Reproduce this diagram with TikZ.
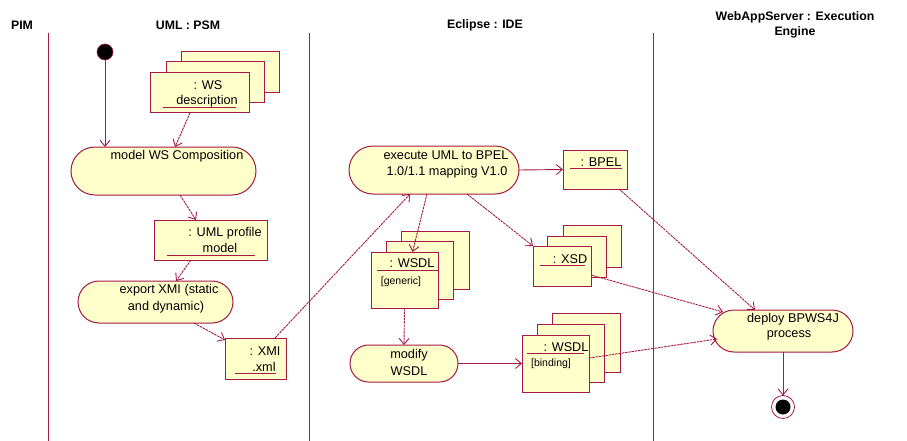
\documentclass[tikz,border=0pt]{standalone}
\usepackage{fontspec}
\setmainfont{Liberation Sans}
\usetikzlibrary{arrows.meta,shapes.misc}
\definecolor{umlline}{RGB}{165,25,70}
\definecolor{umlfill}{RGB}{255,255,204}
\begin{document}
\begin{tikzpicture}[x=1pt,y=-1pt,
 every node/.style={inner sep=0pt, outer sep=0pt},
 obj/.style={draw=umlline, fill=umlfill, line width=1pt, rectangle},
 act/.style={draw=umlline, fill=umlfill, line width=1pt, rounded rectangle},
 lbl/.style={font=\fontsize{12.7}{14}\selectfont, text=black},
 small/.style={font=\fontsize{10.5}{12}\selectfont, text=black},
 head/.style={font=\bfseries\fontsize{12.3}{14}\selectfont, align=center, text=black},
 flow/.style={draw=umlline, line width=0.9pt, -{Straight Barb[length=6pt,width=10pt]}},
 oflow/.style={flow, dash pattern=on 2.5pt off 0.8pt},
 lane/.style={draw=umlline, line width=1pt},
 uline/.style={draw=umlline, line width=1pt}]

\useasboundingbox[fill=white] (0,0) rectangle (907,441);

% headers
\node[head] (hpim) at (22,25) {PIM};
\node[head] (hpsm) at (188,25) {UML : PSM};
\node[head] (hide) at (485,25) {Eclipse : IDE};
\node[head, font=\bfseries\fontsize{12.3}{15}\selectfont] (hweb) at (795,25) {WebAppServer : Execution\\Engine};

% swimlane lines
\draw[lane] (48,33) -- (48,441);
\draw[lane] (309,33) -- (309,441);
\draw[lane] (653,33) -- (653,441);

% start
\node[circle, fill=black, draw=umlline, line width=0.6pt, minimum size=16pt] (start) at (105,52) {};

% WS description stack
\draw[obj] (181,52) rectangle (279,93);
\draw[obj] (166,62) rectangle (264,103);
\node[obj, minimum width=99pt, minimum height=40pt] (wsd) at (199.5,93) {};
\node[lbl] (wsdt1) at (208,85) {: WS};
\node[lbl] (wsdt2) at (207,101) {description};
\draw[uline] (163,108) -- (236,108);

% model WS Composition
\node[act, minimum width=185pt, minimum height=48pt] (model) at (163.5,171) {};
\node[lbl] (modelt) at (177,156) {model WS Composition};

% UML profile model
\node[obj, minimum width=113pt, minimum height=40pt] (uml) at (210.5,240) {};
\node[lbl] (umlt1) at (225,233) {: UML profile};
\node[lbl] (umlt2) at (220,248) {model};
\draw[uline] (167,255) -- (255,255);

% export XMI
\node[act, minimum width=155pt, minimum height=42pt] (export) at (155.5,302) {};
\node[lbl] (exportt1) at (169,290) {export XMI (static};
\node[lbl] (exportt2) at (166,307) {and dynamic)};

% XMI .xml
\node[obj, minimum width=61pt, minimum height=41pt] (xmi) at (255.5,358.5) {};
\node[lbl] (xmit1) at (265,351) {: XMI};
\node[lbl] (xmit2) at (264,367) {.xml};
\draw[uline] (235,373) -- (276,373);

% execute
\node[act, minimum width=170pt, minimum height=48pt] (exec) at (434,170) {};
\node[lbl] (exect1) at (446,155) {execute UML to BPEL};
\node[lbl] (exect2) at (447,172) {1.0/1.1 mapping V1.0};

% BPEL
\node[obj, minimum width=64pt, minimum height=39pt] (bpel) at (595,169.5) {};
\node[lbl] (bpelt) at (601,162) {: BPEL};
\draw[uline] (570,168) -- (622,168);

% WSDL generic stack
\draw[obj] (401,231) rectangle (469,289);
\draw[obj] (386,241) rectangle (453,299);
\node[obj, minimum width=67pt, minimum height=56pt] (wsdlg) at (404.5,280) {};
\node[lbl] (wsdlgt1) at (412,263) {: WSDL};
\draw[uline] (377,270) -- (438,270);
\node[small] (wsdlgt2) at (401,282) {[generic]};

% XSD stack
\draw[obj] (563,225) rectangle (621,267);
\draw[obj] (547,236) rectangle (606,277);
\node[obj, minimum width=58pt, minimum height=40pt] (xsd) at (562,266) {};
\node[lbl] (xsdt) at (570,259) {: XSD};
\draw[uline] (540,265) -- (585,265);

% modify WSDL
\node[act, minimum width=108pt, minimum height=37pt] (modify) at (404,363.5) {};
\node[lbl] (modifyt1) at (409,355) {modify};
\node[lbl] (modifyt2) at (409,371) {WSDL};

% WSDL binding stack
\draw[obj] (552,313) rectangle (620,372);
\draw[obj] (537,324) rectangle (604,382);
\node[obj, minimum width=67pt, minimum height=57pt] (wsdlb) at (555.5,363.5) {};
\node[lbl] (wsdlbt1) at (566,347) {: WSDL};
\draw[uline] (527,353) -- (584,353);
\node[small] (wsdlbt2) at (551,364) {[binding]};

% deploy
\node[act, minimum width=140pt, minimum height=42pt] (deploy) at (783,331) {};
\node[lbl] (deployt1) at (793,319) {deploy BPWS4J};
\node[lbl] (deployt2) at (789,335) {process};

% end
\node[circle, draw=umlline, fill=white, line width=0.8pt, minimum size=23pt] (end) at (783,407) {};
\node[circle, fill=black, minimum size=15pt] (endin) at (end.center) {};

% connectors
\draw[flow] (start.south) -- (start.south |- model.north);
\draw[oflow] ([xshift=-9.5pt]wsd.south) -- ([xshift=11.5pt]model.north);
\draw[oflow] ([xshift=16.5pt]model.south) -- ([xshift=-14.5pt]uml.north);
\draw[oflow] ([xshift=-19.5pt]uml.south) -- ([xshift=20.5pt]export.north);
\draw[oflow] ([xshift=38.5pt]export.south) -- ([yshift=-2pt]xmi.north west);
\draw[oflow] ([xshift=19.5pt]xmi.north) -- ([xshift=-24pt]exec.south);
\draw[flow] (exec.east) -- (bpel.west);
\draw[oflow] ([xshift=24pt]bpel.south) -- ([xshift=-28pt]deploy.north);
\draw[oflow] ([xshift=-7pt]exec.south) -- ([xshift=8pt]wsdlg.north);
\draw[oflow] ([xshift=33pt]exec.south) -- (xsd.north west);
\draw[oflow] ([yshift=-9pt]xsd.east) -- ([xshift=10pt,yshift=19pt]deploy.west);
\draw[oflow] (wsdlg.south) -- (modify.north);
\draw[flow] (modify.east) -- (modify.east -| wsdlb.west);
\draw[oflow] ([yshift=5.5pt]wsdlb.east) -- ([xshift=4pt,yshift=-8pt]deploy.west);
\draw[flow] (deploy.south) -- (end.north);
\end{tikzpicture}
\end{document}
